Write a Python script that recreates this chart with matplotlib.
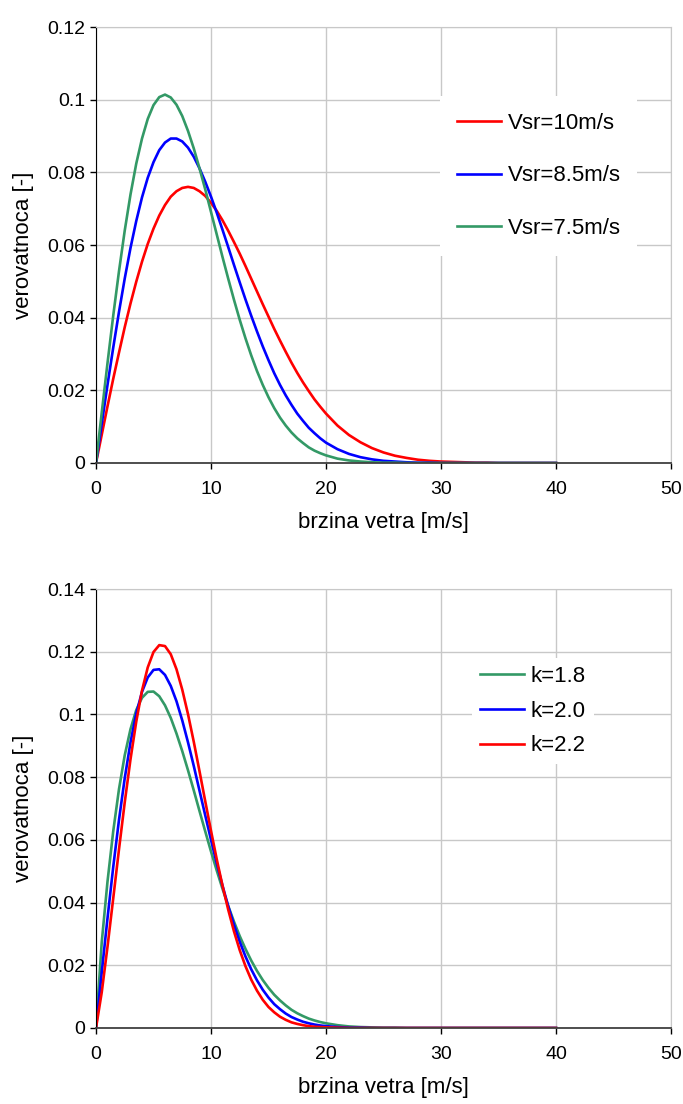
import matplotlib
matplotlib.use("Agg")
import matplotlib.pyplot as plt

plt.rcParams['font.family'] = ['Liberation Sans', 'DejaVu Sans']

# brzina vetra [m/s]: do 20 m/s po 0.5, zatim po 1 m/s do 40
v = [i * 0.5 for i in range(41)] + list(range(21, 41))

# gornji dijagram: Rayleigh, razlicite srednje brzine
p_10 = [0, 0.0078, 0.0156, 0.0232, 0.0304, 0.0374, 0.0439, 0.0499, 0.0554, 0.0603,
        0.0645, 0.0681, 0.0710, 0.0733, 0.0748, 0.0757, 0.0760, 0.0757, 0.0748, 0.0735,
        0.0716, 0.0694, 0.0668, 0.0639, 0.0608, 0.0576, 0.0542, 0.0507, 0.0472, 0.0437,
        0.0403, 0.0369, 0.0337, 0.0306, 0.0276, 0.0248, 0.0222, 0.0198, 0.0175, 0.0155,
        0.0136,
        0.0103, 0.0077, 0.0057, 0.0041, 0.0029, 0.0020, 0.0014, 0.0009, 0.0006, 0.0004,
        0.0003, 0.0002, 0.0001, 0.0001, 0, 0, 0, 0, 0, 0]
p_85 = [0, 0.0108, 0.0215, 0.0318, 0.0416, 0.0508, 0.0592, 0.0666, 0.0731, 0.0785,
        0.0828, 0.0861, 0.0882, 0.0893, 0.0893, 0.0885, 0.0868, 0.0843, 0.0811, 0.0774,
        0.0733, 0.0689, 0.0642, 0.0594, 0.0545, 0.0497, 0.0450, 0.0405, 0.0362, 0.0321,
        0.0283, 0.0247, 0.0215, 0.0186, 0.0160, 0.0136, 0.0116, 0.0097, 0.0082, 0.0068,
        0.0056,
        0.0038, 0.0025, 0.0016, 0.0010, 0.0006, 0.0004, 0.0002, 0.0001, 0.0001, 0,
        0, 0, 0, 0, 0, 0, 0, 0, 0, 0]
p_75 = [0, 0.0139, 0.0275, 0.0406, 0.0528, 0.0640, 0.0739, 0.0824, 0.0893, 0.0947,
        0.0985, 0.1007, 0.1014, 0.1006, 0.0986, 0.0955, 0.0914, 0.0866, 0.0811, 0.0753,
        0.0691, 0.0629, 0.0567, 0.0507, 0.0449, 0.0394, 0.0343, 0.0296, 0.0253, 0.0215,
        0.0181, 0.0151, 0.0125, 0.0103, 0.0084, 0.0068, 0.0055, 0.0043, 0.0034, 0.0027,
        0.0021,
        0.0012, 0.0007, 0.0004, 0.0002, 0.0001, 0.0001, 0, 0, 0, 0,
        0, 0, 0, 0, 0, 0, 0, 0, 0, 0]

# donji dijagram: Weibull, razliciti k
p_18 = [0, 0.0274, 0.0467, 0.0628, 0.0762, 0.0870, 0.0953, 0.1014, 0.1053, 0.1072,
        0.1073, 0.1058, 0.1029, 0.0989, 0.0939, 0.0883, 0.0822, 0.0758, 0.0692, 0.0627,
        0.0563, 0.0502, 0.0444, 0.0389, 0.0339, 0.0293, 0.0252, 0.0215, 0.0182, 0.0153,
        0.0128, 0.0106, 0.0088, 0.0072, 0.0058, 0.0047, 0.0038, 0.0030, 0.0024, 0.0019,
        0.0015,
        0.0009, 0.0005, 0.0003, 0.0002, 0.0001, 0.0001, 0, 0, 0, 0,
        0, 0, 0, 0, 0, 0, 0, 0, 0, 0]
p_20 = [0, 0.0178, 0.0350, 0.0514, 0.0664, 0.0797, 0.0911, 0.1003, 0.1072, 0.1118,
        0.1142, 0.1144, 0.1126, 0.1091, 0.1042, 0.0981, 0.0911, 0.0836, 0.0757, 0.0678,
        0.0600, 0.0525, 0.0454, 0.0388, 0.0329, 0.0275, 0.0228, 0.0187, 0.0152, 0.0122,
        0.0097, 0.0076, 0.0060, 0.0046, 0.0035, 0.0027, 0.0020, 0.0015, 0.0011, 0.0008,
        0.0006,
        0.0003, 0.0001, 0.0001, 0, 0, 0, 0, 0, 0, 0,
        0, 0, 0, 0, 0, 0, 0, 0, 0, 0]
p_22 = [0, 0.0114, 0.0259, 0.0414, 0.0570, 0.0720, 0.0857, 0.0977, 0.1076, 0.1150,
        0.1199, 0.1221, 0.1218, 0.1192, 0.1144, 0.1079, 0.1001, 0.0913, 0.0819, 0.0723,
        0.0629, 0.0538, 0.0454, 0.0377, 0.0308, 0.0248, 0.0197, 0.0154, 0.0119, 0.0090,
        0.0067, 0.0050, 0.0036, 0.0026, 0.0018, 0.0013, 0.0009, 0.0006, 0.0004, 0.0003,
        0.0002,
        0.0001, 0, 0, 0, 0, 0, 0, 0, 0, 0,
        0, 0, 0, 0, 0, 0, 0, 0, 0, 0]

top_labels = ['Vsr=10m/s', 'Vsr=8.5m/s', 'Vsr=7.5m/s']
bot_labels = ['k=1.8', 'k=2.0', 'k=2.2']

x_ticks = [0, 10, 20, 30, 40, 50]
y_ticks_top = [0, 0.02, 0.04, 0.06, 0.08, 0.1, 0.12]
y_ticks_bot = [0, 0.02, 0.04, 0.06, 0.08, 0.1, 0.12, 0.14]

RED = '#FF0000'
BLUE = '#0000FF'
GREEN = '#339966'
GRID = '#C8C8C8'

fig = plt.figure(figsize=(6.83, 11.04), dpi=100)
ax1 = fig.add_axes([96/683, 1-463/1104, 575/683, 436/1104])
ax2 = fig.add_axes([96/683, 1-1028/1104, 575/683, 439/1104])


def style(ax, yticks):
    ax.set_xlim(0, 50)
    ax.set_ylim(yticks[0], yticks[-1])
    ax.set_xticks(x_ticks)
    ax.set_xticklabels([str(t) for t in x_ticks])
    ax.set_yticks(yticks)
    ax.set_yticklabels(['%g' % t for t in yticks])
    ax.grid(True, color=GRID, linewidth=1)
    ax.set_axisbelow(True)
    ax.spines['left'].set_color('black')
    ax.spines['bottom'].set_color('#404040')
    ax.spines['bottom'].set_linewidth(1.3)
    ax.spines['top'].set_color(GRID)
    ax.spines['right'].set_color(GRID)
    ax.tick_params(axis='y', direction='out', length=4, width=1, pad=4, labelsize=14)
    ax.tick_params(axis='x', direction='out', length=4, width=1, pad=9, labelsize=14)
    ax.set_xlabel('brzina vetra [m/s]', fontsize=16, labelpad=10)
    ax.set_ylabel('verovatnoca [-]', fontsize=16, labelpad=9)


style(ax1, y_ticks_top)
ax1.plot(v, p_10, color=RED, lw=1.9, label=top_labels[0])
ax1.plot(v, p_85, color=BLUE, lw=1.9, label=top_labels[1])
ax1.plot(v, p_75, color=GREEN, lw=1.9, label=top_labels[2])
ax1.legend(loc='upper left', bbox_to_anchor=((440-96)/575, (463-96)/436),
           borderaxespad=0, fontsize=16, frameon=True, fancybox=False,
           edgecolor='none', facecolor='white', framealpha=1,
           handlelength=2.0, handletextpad=0.3, labelspacing=1.43,
           borderpad=0.75)

style(ax2, y_ticks_bot)
ax2.plot(v, p_18, color=GREEN, lw=1.9, label=bot_labels[0])
ax2.plot(v, p_20, color=BLUE, lw=1.9, label=bot_labels[1])
ax2.plot(v, p_22, color=RED, lw=1.9, label=bot_labels[2])
ax2.legend(loc='upper left', bbox_to_anchor=((472-96)/575, (1028-658)/439),
           borderaxespad=0, fontsize=16, frameon=True, fancybox=False,
           edgecolor='none', facecolor='white', framealpha=1,
           handlelength=2.0, handletextpad=0.3, labelspacing=0.62,
           borderpad=0.35)

fig.savefig('out.png', dpi=100)
